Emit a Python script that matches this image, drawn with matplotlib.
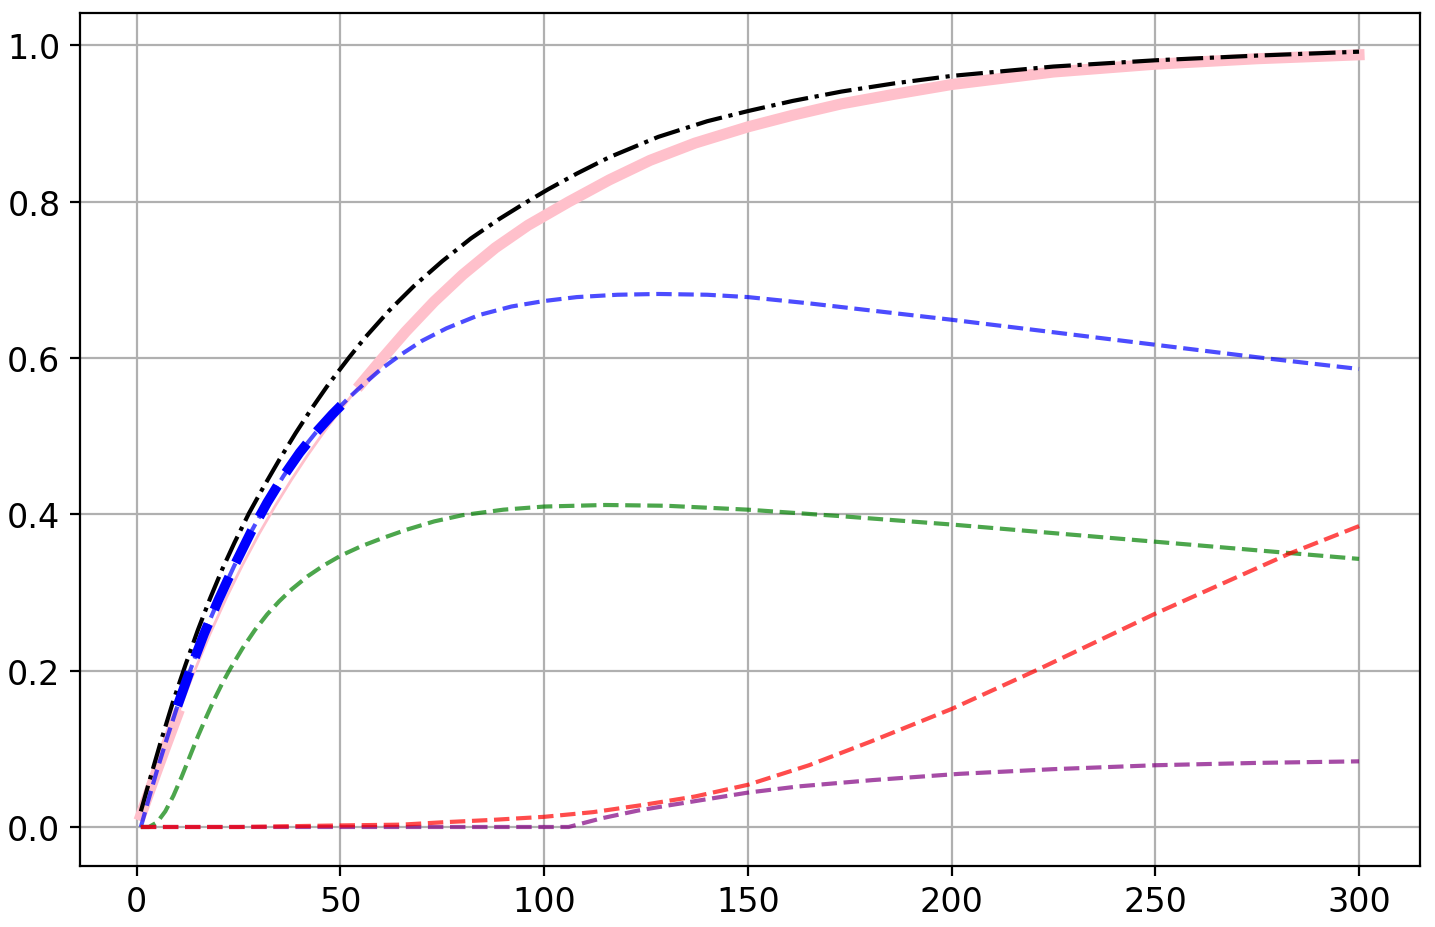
import numpy as np
import matplotlib
matplotlib.use("Agg")
import matplotlib.pyplot as plt

# values
black_x = [1, 3, 6, 9, 12, 15, 18, 21, 24, 27.5, 31, 35, 39, 43, 47, 52, 56, 62, 68, 75,
           82, 89, 95.8, 101, 108, 116, 128, 140, 150, 161, 173, 186, 200, 225, 250, 275, 300]
black_y = [0.02, 0.057, 0.111, 0.162, 0.208, 0.252, 0.2925, 0.33, 0.364, 0.401, 0.434,
           0.47, 0.504, 0.536, 0.566, 0.60, 0.626, 0.661, 0.692, 0.724, 0.753, 0.778, 0.80,
           0.816, 0.836, 0.857, 0.883, 0.903, 0.916, 0.929, 0.941, 0.9515, 0.961, 0.973,
           0.981, 0.987, 0.992]

pink_x = [1, 4, 7, 10, 14, 18, 22, 26, 30, 34, 38, 42, 46, 50, 55, 60, 66, 73, 80, 88, 96,
          106, 116, 126, 137, 150, 161, 173, 186, 200, 225, 250, 275, 300]
pink_y = [0.015, 0.0585, 0.1014, 0.1434, 0.1974, 0.2474, 0.2934, 0.3358, 0.375, 0.411,
          0.4446, 0.4762, 0.5058, 0.5338, 0.5668, 0.5978, 0.6338, 0.6723, 0.7066, 0.741,
          0.7698, 0.7998, 0.828, 0.853, 0.875, 0.8958, 0.9107, 0.9253, 0.9376, 0.95, 0.966,
          0.976, 0.983, 0.988]

blue_x = [1, 3, 5, 7.5, 10, 13, 16.5, 20, 24, 28, 32, 36, 40, 44, 48, 52, 56, 60, 65, 70,
          76, 84, 92, 100, 108, 118, 128, 140, 150, 165, 180, 200, 225, 250, 275, 300]
blue_y = [0, 0.037, 0.073, 0.115, 0.155, 0.199, 0.247, 0.29, 0.335, 0.377, 0.415, 0.449,
          0.479, 0.505, 0.528, 0.549, 0.568, 0.586, 0.605, 0.622, 0.638, 0.655, 0.666,
          0.673, 0.678, 0.681, 0.682, 0.681, 0.678, 0.670, 0.661, 0.649, 0.633, 0.617,
          0.601, 0.586]

green_x = [1, 3, 5, 7, 9, 11, 13, 15, 17, 19, 21, 23, 26, 29, 32, 35, 38, 42, 46, 50, 55,
           60, 66, 73, 80, 90, 100, 115, 130, 150, 172, 200, 225, 250, 275, 300]
green_y = [0, 0, 0.006, 0.02, 0.04, 0.064, 0.09, 0.116, 0.14, 0.163, 0.184, 0.203, 0.229,
           0.252, 0.272, 0.289, 0.304, 0.321, 0.335, 0.347, 0.359, 0.369, 0.380, 0.391,
           0.399, 0.406, 0.410, 0.412, 0.411, 0.406, 0.398, 0.387, 0.376, 0.365, 0.354,
           0.343]

red_x = [1, 25, 50, 65, 75, 87, 100, 112, 124, 137, 150, 165, 180, 200, 221, 250, 283, 300]
red_y = [0, 0, 0.002, 0.003, 0.006, 0.009, 0.013, 0.019, 0.028, 0.039, 0.054, 0.079,
         0.109, 0.151, 0.201, 0.273, 0.35, 0.385]

purple_x = [1, 50, 106, 114, 123, 131, 150, 162.6, 180.6, 201.9, 225, 250, 275, 300]
purple_y = [0, 0, 0, 0.011, 0.021, 0.028, 0.044, 0.052, 0.060, 0.068, 0.074, 0.079,
            0.082, 0.084]

# stretch where the thick pink is hidden and where the thick blue is drawn
pink_gap = (10, 55)
blue_thick_range = (10, 52)

pink_x = np.array(pink_x)
pink_y = np.array(pink_y, dtype=float)
pink_thick = np.where((pink_x > pink_gap[0]) & (pink_x < pink_gap[1]), np.nan, pink_y)

blue_x = np.array(blue_x)
blue_y = np.array(blue_y, dtype=float)
blue_thick = np.where((blue_x >= blue_thick_range[0]) & (blue_x <= blue_thick_range[1]),
                      blue_y, np.nan)

fig = plt.figure(figsize=(7.175, 4.64), dpi=200)
ax = fig.add_axes([0.0557, 0.066, 0.9338, 0.919])

ax.plot(pink_x, pink_thick, color="pink", lw=4)
ax.plot(pink_x, pink_y, color="pink", lw=1)
ax.plot(black_x, black_y, color="black", ls="-.", lw=1.5)
ax.plot(blue_x, blue_thick, color="blue", ls="--", lw=3.5)
ax.plot(blue_x, blue_y, color="blue", ls="--", lw=1.5, alpha=0.7)
ax.plot(green_x, green_y, color="green", ls="--", lw=1.5, alpha=0.7)
ax.plot(purple_x, purple_y, color="purple", ls="--", lw=1.5, alpha=0.7)
ax.plot(red_x, red_y, color="red", ls="--", lw=1.5, alpha=0.7)

ax.grid(True)
ax.tick_params(labelsize=12)

fig.savefig("out.png", dpi=200)
